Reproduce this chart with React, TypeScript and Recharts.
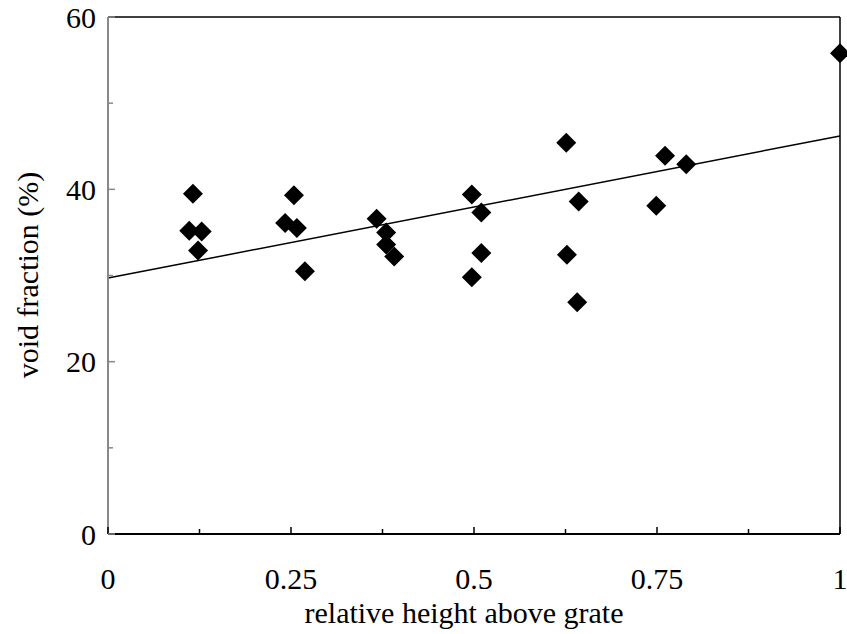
import {
  ScatterChart, Scatter, XAxis, YAxis, ReferenceLine,
} from 'recharts';

// relative height above grate (x) and void fraction in % (y)
const heights = [
  0.111, 0.116, 0.123, 0.128,
  0.242, 0.254, 0.258, 0.269,
  0.367, 0.38, 0.38, 0.391,
  0.497, 0.51, 0.51, 0.497,
  0.626, 0.643, 0.627, 0.641,
  0.749, 0.761, 0.79, 1.0,
];
const voidFractions = [
  35.2, 39.5, 32.9, 35.1,
  36.1, 39.3, 35.5, 30.5,
  36.6, 35.0, 33.6, 32.2,
  39.4, 37.3, 32.6, 29.8,
  45.4, 38.6, 32.4, 26.9,
  38.1, 43.9, 42.9, 55.8,
];

// linear trend line end points
const trendX = [0, 1];
const trendY = [29.7, 46.2];

const xTicks = [0, 0.125, 0.25, 0.375, 0.5, 0.625, 0.75, 0.875, 1];
const xLabels = ['0', '', '0.25', '', '0.5', '', '0.75', '', '1'];
const yTicks = [0, 10, 20, 30, 40, 50, 60];
const yLabels = ['0', '', '20', '', '40', '', '60'];

const points = heights.map((h, i) => ({ x: h, y: voidFractions[i] }));

const textStyle = { fontFamily: 'Liberation Serif, Times New Roman, serif', fontSize: 30 };

const Diamond = (props: any) => {
  const { cx, cy } = props;
  const r = 10;
  return (
    <polygon
      points={`${cx},${cy - r} ${cx + r},${cy} ${cx},${cy + r} ${cx - r},${cy}`}
      fill="#000"
    />
  );
};

const XTick = (props: any) => {
  const { x, y, index } = props;
  const label = xLabels[index];
  const len = label ? 7 : 5;
  return (
    <g>
      <line x1={x} x2={x} y1={y} y2={y - len} stroke="#000" strokeWidth={1.5} />
      {label && (
        <text x={x} y={y + 44} dy="0.35em" textAnchor="middle" style={textStyle} fill="#000">
          {label}
        </text>
      )}
    </g>
  );
};

const YTick = (props: any) => {
  const { x, y, index } = props;
  const label = yLabels[index];
  const len = label ? 7 : 5;
  return (
    <g>
      <line x1={x} x2={x + len} y1={y} y2={y} stroke="#888" strokeWidth={1.5} />
      {label && (
        <text x={x - 12} y={y} dy="0.35em" textAnchor="end" style={textStyle} fill="#000">
          {label}
        </text>
      )}
    </g>
  );
};

const YTitle = () => (
  <text
    x={27}
    y={275}
    transform="rotate(-90 27 275)"
    textAnchor="middle"
    dy="0.35em"
    style={textStyle}
    fill="#000"
  >
    void fraction (%)
  </text>
);

const XTitle = () => (
  <text x={464} y={612} dy="0.35em" textAnchor="middle" style={textStyle} fill="#000">
    relative height above grate
  </text>
);

export default function App() {
  return (
    <div style={{ position: 'absolute', left: 0, top: 0, background: '#fff' }}>
      <ScatterChart width={847} height={634} margin={{ top: 17, right: 7, bottom: 0, left: 0 }}>
        <XAxis
          type="number"
          dataKey="x"
          domain={[0, 1]}
          ticks={xTicks}
          interval={0}
          height={100}
          tickSize={0}
          tickMargin={0}
          tickLine={false}
          tick={<XTick />}
          axisLine={{ stroke: '#000', strokeWidth: 2 }}
          label={<XTitle />}
        />
        <YAxis
          type="number"
          dataKey="y"
          domain={[0, 60]}
          ticks={yTicks}
          interval={0}
          width={108}
          tickSize={0}
          tickMargin={0}
          tickLine={false}
          tick={<YTick />}
          axisLine={{ stroke: '#888', strokeWidth: 2 }}
          label={<YTitle />}
        />
        <ReferenceLine y={60} stroke="#000" strokeWidth={1.5} ifOverflow="visible" />
        <ReferenceLine x={1} stroke="#000" strokeWidth={1.5} ifOverflow="visible" />
        <ReferenceLine
          segment={[{ x: trendX[0], y: trendY[0] }, { x: trendX[1], y: trendY[1] }]}
          stroke="#000"
          strokeWidth={1.5}
          ifOverflow="visible"
        />
        <Scatter data={points} shape={<Diamond />} isAnimationActive={false} />
      </ScatterChart>
    </div>
  );
}
